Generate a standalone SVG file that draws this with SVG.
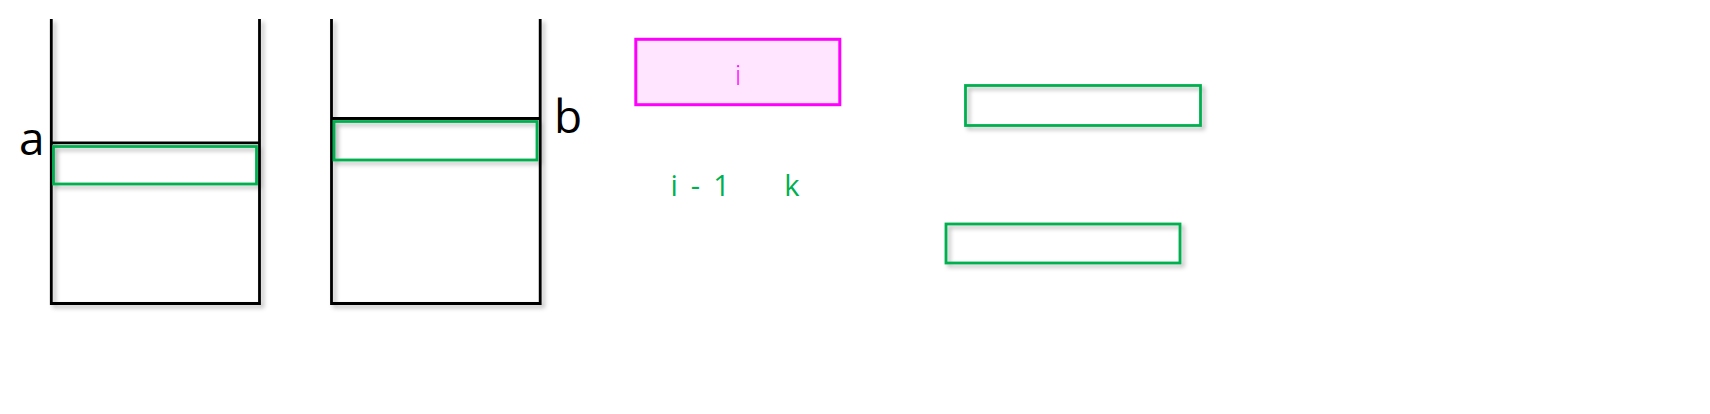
<svg xmlns="http://www.w3.org/2000/svg" width="1710" height="414" viewBox="0 0 1710 414">
<defs>
<filter id="sh" x="-10%" y="-10%" width="130%" height="140%">
<feDropShadow dx="3" dy="3" stdDeviation="2" flood-color="#000" flood-opacity="0.28"/>
</filter>
<style>
.box{fill:none;stroke:#000;stroke-width:2.8;}
.div{stroke:#000;stroke-width:2.8;}
.g{fill:none;stroke:#00B050;stroke-width:2.8;}
.lbl{font-family:"Open Sans","Liberation Sans",sans-serif;font-size:46px;fill:#000;}
.gt{font-family:"Open Sans","Liberation Sans",sans-serif;font-size:29px;fill:#00B050;}
</style>
</defs>
<g id="stackA">
<path class="box" filter="url(#sh)" d="M51.3,19 V303.5 H259.5 V19"/>
<line class="div" x1="51.3" y1="142.8" x2="259.5" y2="142.8"/>
<rect id="a-slot" class="g" filter="url(#sh)" x="53.5" y="146.5" width="203" height="37.5"/>
<text class="lbl" x="19" y="154.5">a</text>
</g>
<g id="stackB">
<path class="box" filter="url(#sh)" d="M331.5,19 V303.5 H540.2 V19"/>
<line class="div" x1="331.5" y1="118.5" x2="540.2" y2="118.5"/>
<rect id="b-slot" class="g" filter="url(#sh)" x="334" y="121.5" width="203" height="38.5"/>
<text class="lbl" x="554" y="132.5">b</text>
</g>
<g id="node-i">
<rect x="635.8" y="39.3" width="204" height="65.4" fill="#FFE5FF" stroke="#FF00FF" stroke-width="3"/>
<text x="738" y="85" text-anchor="middle" font-family="'Open Sans','Liberation Sans',sans-serif" font-size="27" font-weight="300" fill="#FF00FF">i</text>
</g>
<g id="labels">
<text class="gt" xml:space="preserve" x="670.5" y="195.5" word-spacing="5.5">i - 1</text>
<text class="gt" x="784.3" y="195.5">k</text>
</g>
<g id="slot2">
<rect class="g" filter="url(#sh)" x="965.5" y="85.5" width="235" height="40"/>
</g>
<g id="slot3">
<rect class="g" filter="url(#sh)" x="946" y="224" width="234" height="39"/>
</g>
<g id="connectors"></g>
</svg>
